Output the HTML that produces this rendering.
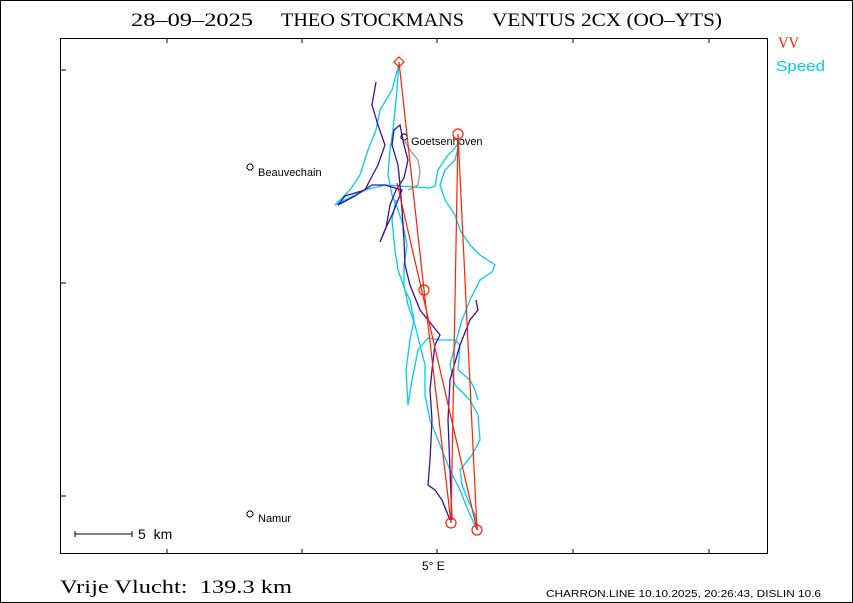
<!DOCTYPE html>
<html><head><meta charset="utf-8"><style>
html,body{margin:0;padding:0;background:#fff}
svg{display:block}
text{white-space:pre}
</style></head><body>
<svg width="853" height="603" viewBox="0 0 853 603" xmlns="http://www.w3.org/2000/svg" shape-rendering="crispEdges">
<rect x="0.5" y="0.5" width="852" height="602" fill="#fff" stroke="#000"/>
<text x="131" y="26" font-family="Liberation Serif, serif" font-size="19" fill="#000" textLength="122" lengthAdjust="spacingAndGlyphs">28–09–2025</text>
<text x="281" y="26" font-family="Liberation Serif, serif" font-size="19" fill="#000" textLength="183" lengthAdjust="spacingAndGlyphs">THEO STOCKMANS</text>
<text x="492" y="26" font-family="Liberation Serif, serif" font-size="19" fill="#000" textLength="230" lengthAdjust="spacingAndGlyphs">VENTUS 2CX (OO–YTS)</text>
<rect x="60.5" y="38.5" width="707" height="515" fill="none" stroke="#000"/>
<g stroke="#000" fill="none">
<path d="M60 70h6M60 283h6M60 496h6M167 38v5M302 38v5M437 38v5M573 38v5M709 38v5M167 554v-5M302 554v-5M437 554v-5M573 554v-5M709 554v-5"/>
<path d="M75 534h57M75 531v6M132 531v6"/>
</g>
<text x="778" y="48" font-family="Liberation Serif, serif" font-size="16" fill="#ff2000" textLength="21" lengthAdjust="spacingAndGlyphs">VV</text>
<text x="776" y="71" font-family="Liberation Sans, sans-serif" font-size="15" fill="#00ccf0" textLength="49" lengthAdjust="spacingAndGlyphs">Speed</text>
<text x="138" y="539" font-family="Liberation Sans, sans-serif" font-size="14">5  km</text>
<text x="422" y="570" font-family="Liberation Sans, sans-serif" font-size="12">5° E</text>
<text x="60" y="593" font-family="Liberation Serif, serif" font-size="19" textLength="232" lengthAdjust="spacingAndGlyphs">Vrije Vlucht:  139.3 km</text>
<text x="546" y="597" font-family="Liberation Sans, sans-serif" font-size="10" textLength="275" lengthAdjust="spacingAndGlyphs">CHARRON.LINE 10.10.2025, 20:26:43, DISLIN 10.6</text>
<g font-family="Liberation Sans, sans-serif" font-size="11" fill="#000">
<circle cx="250" cy="167" r="3" fill="none" stroke="#000"/><text x="258" y="176">Beauvechain</text>
<circle cx="404" cy="137" r="3" fill="none" stroke="#000"/><text x="411" y="145">Goetsenhoven</text>
<circle cx="250" cy="514" r="3" fill="none" stroke="#000"/><text x="258" y="522">Namur</text>
</g>
<g fill="none" stroke-width="1.3" shape-rendering="auto">
<polyline stroke="#999" points="404,140 410,150 418,160 420,172 418,185 408,190"/>
<polyline stroke="#00ccf0" points="399,64 392,90 380,110 376,130 368,150 360,175 350,190 335,205 345,200 365,190 385,185 400,186 430,188 435,186 438,170 448,155 455,148 460,140 455,160 445,170 440,185 445,200 455,215 460,230 470,245 480,255 495,265 492,272 480,280 475,290 470,300 462,320 455,345 450,365 455,385 470,400 478,415 480,440 472,455 460,470 462,485 468,500 475,515 478,530"/>
<polyline stroke="#00ccf0" points="399,64 397,90 395,110 393,130 390,150 388,175 392,195 398,210 403,225 407,245 404,265 404,285 408,305 415,325 420,345 425,365 425,395 430,420 440,445 450,470 460,490 468,510 476,528"/>
<polyline stroke="#00ccf0" points="396,200 392,220 395,250 398,270 405,290 410,300 414,320 410,340 406,370 408,405 412,380 418,350 428,338 440,340 455,340 460,345 458,370 470,380 475,390 478,400"/>
<polyline stroke="#3a10a0" points="376,82 372,105 378,125 385,145 378,165 370,180 365,190 345,196 338,205 355,196 372,185 385,185 395,188 402,190 398,200 392,215 384,232 380,242 386,228 390,205 396,190 404,178 408,160 404,145 400,125 394,130 392,145 398,165 400,185 402,210 404,240 405,265 410,285 420,310 432,325 440,335 435,345 432,370 430,390 432,420 430,460 428,485 435,490 442,500 450,520"/>
<polyline stroke="#3a10a0" points="476,300 478,310 470,320 460,345 450,380 448,420 450,470 452,520"/>
</g>
<g fill="none" stroke="#ff2000" stroke-width="1.2" shape-rendering="auto">
<polyline points="399,62 424,290 451,523 458,134 477,530 397,183"/>
<path d="M399 57l5 5-5 5-5-5z"/>
<circle cx="424" cy="290" r="5"/>
<circle cx="451" cy="523" r="5"/>
<circle cx="458" cy="134" r="5"/>
<circle cx="477" cy="530" r="5"/>
</g>
</svg>
</body></html>
